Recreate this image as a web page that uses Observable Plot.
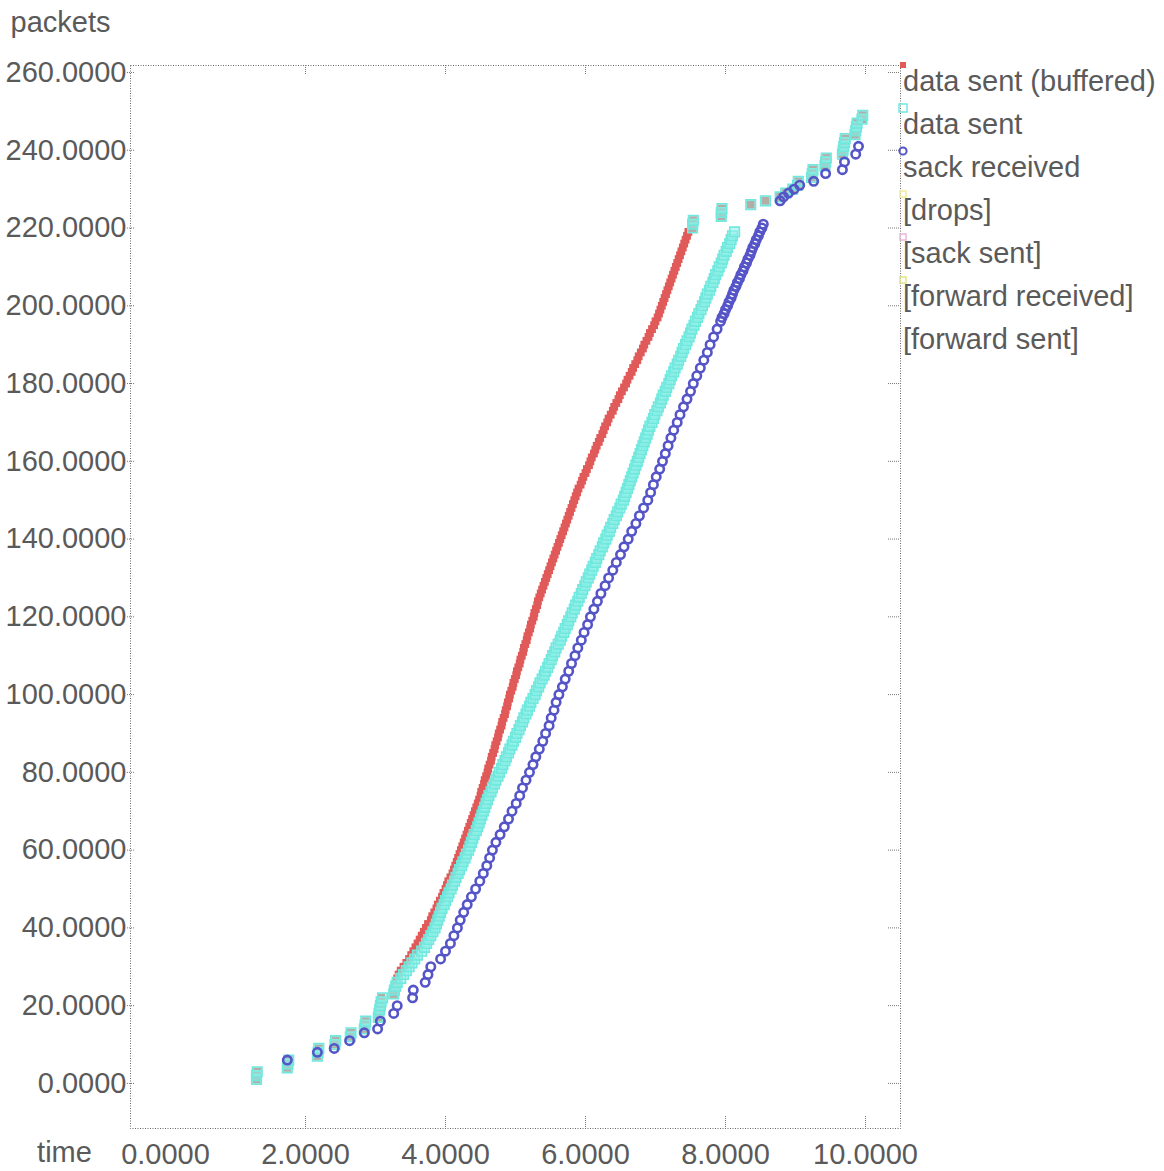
<!DOCTYPE html>
<html>
<head>
<meta charset="utf-8">
<script src="https://cdn.jsdelivr.net/npm/d3@7"></script>
<script src="https://cdn.jsdelivr.net/npm/@observablehq/plot@0.6"></script>
<style>
  body { margin: 0; background: #fff; }
  #wrap { position: relative; width: 1164px; height: 1171px; }
  #legend { position: absolute; left: 903px; top: 60px; font-family: "Liberation Sans", Arial, sans-serif; font-size: 29px; color: #5a5a5a; line-height: 43px; }
  .item { position: relative; white-space: nowrap; height: 43px; }
  .item svg { position: absolute; left: -6px; top: -1.5px; overflow: visible; }
</style>
</head>
<body>
<div id="wrap"><div id="legend"></div></div>
<script>
// ---- data ----
const xTicks = [0, 2, 4, 6, 8, 10];
const xTickMarks = [2, 4, 6, 8, 10];
const yTicks = [0, 20, 40, 60, 80, 100, 120, 140, 160, 180, 200, 220, 240, 260];

// "data sent (buffered)": send time of packets 1..219
const bufferedFirst = 1;
const bufferedTimes = [
  1.30,1.30,1.31,1.74,1.75,1.76,2.17,2.18,2.19,2.42,
  2.43,2.64,2.65,2.84,2.85,2.86,3.04,3.05,3.06,3.07,
  3.07,3.08,3.26,3.27,3.28,3.29,3.31,3.33,3.36,3.40,
  3.44,3.48,3.51,3.54,3.57,3.60,3.63,3.66,3.69,3.72,
  3.75,3.79,3.81,3.84,3.87,3.89,3.92,3.95,3.97,4.00,
  4.02,4.04,4.07,4.10,4.12,4.14,4.16,4.18,4.20,4.22,
  4.24,4.26,4.28,4.30,4.32,4.34,4.36,4.38,4.40,4.42,
  4.44,4.46,4.48,4.50,4.51,4.53,4.55,4.56,4.58,4.60,
  4.61,4.63,4.65,4.66,4.68,4.70,4.71,4.73,4.75,4.76,
  4.78,4.80,4.81,4.83,4.85,4.86,4.88,4.89,4.91,4.92,
  4.94,4.96,4.97,4.99,5.01,5.02,5.04,5.06,5.07,5.09,
  5.11,5.12,5.14,5.16,5.17,5.19,5.21,5.22,5.24,5.26,
  5.27,5.29,5.31,5.32,5.34,5.36,5.38,5.40,5.42,5.44,
  5.46,5.48,5.50,5.52,5.54,5.56,5.58,5.60,5.62,5.64,
  5.66,5.68,5.70,5.72,5.74,5.76,5.78,5.80,5.82,5.84,
  5.86,5.88,5.90,5.93,5.95,5.97,6.00,6.02,6.05,6.07,
  6.09,6.12,6.14,6.16,6.19,6.21,6.24,6.26,6.28,6.31,
  6.33,6.36,6.39,6.41,6.44,6.47,6.49,6.52,6.55,6.58,
  6.60,6.63,6.66,6.68,6.71,6.74,6.76,6.79,6.82,6.84,
  6.87,6.90,6.92,6.95,6.98,7.00,7.03,7.05,7.07,7.09,
  7.11,7.13,7.15,7.17,7.19,7.21,7.23,7.25,7.27,7.29,
  7.31,7.33,7.35,7.37,7.39,7.41,7.43,7.45,7.47
];

// "data sent": send time of packets 1..219
const sentFirst = 1;
const sentTimes = [
  1.30,1.30,1.31,1.74,1.75,1.76,2.17,2.18,2.19,2.42,
  2.43,2.64,2.65,2.84,2.85,2.86,3.04,3.05,3.06,3.07,
  3.08,3.10,3.26,3.27,3.29,3.31,3.36,3.40,3.44,3.48,
  3.52,3.56,3.60,3.66,3.70,3.73,3.76,3.79,3.82,3.85,
  3.87,3.89,3.91,3.93,3.95,3.98,4.00,4.03,4.05,4.08,
  4.10,4.13,4.15,4.18,4.20,4.23,4.25,4.28,4.30,4.33,
  4.35,4.37,4.39,4.41,4.44,4.46,4.48,4.50,4.52,4.54,
  4.56,4.58,4.60,4.62,4.65,4.67,4.70,4.72,4.75,4.77,
  4.80,4.82,4.85,4.87,4.90,4.92,4.95,4.97,5.00,5.02,
  5.05,5.07,5.10,5.12,5.15,5.17,5.20,5.22,5.25,5.28,
  5.30,5.33,5.35,5.38,5.41,5.43,5.46,5.48,5.51,5.53,
  5.56,5.58,5.61,5.64,5.66,5.69,5.71,5.74,5.76,5.79,
  5.81,5.84,5.86,5.89,5.91,5.94,5.96,5.99,6.01,6.04,
  6.06,6.09,6.11,6.14,6.16,6.19,6.21,6.24,6.26,6.29,
  6.31,6.34,6.36,6.39,6.41,6.44,6.46,6.49,6.51,6.54,
  6.56,6.58,6.60,6.62,6.64,6.66,6.68,6.70,6.72,6.74,
  6.76,6.78,6.80,6.82,6.84,6.86,6.88,6.90,6.92,6.95,
  6.97,6.99,7.02,7.04,7.07,7.09,7.11,7.14,7.16,7.19,
  7.21,7.23,7.26,7.28,7.31,7.33,7.36,7.38,7.40,7.43,
  7.45,7.48,7.50,7.52,7.55,7.57,7.60,7.62,7.65,7.67,
  7.70,7.72,7.74,7.77,7.79,7.82,7.84,7.86,7.89,7.91,
  7.94,7.96,7.98,8.01,8.03,8.06,8.08,8.10,8.13
];

// late packets 220..249 (buffered and sent markers coincide)
const tailFirst = 220;
const tailTimes = [
  7.53,7.53,7.54,7.94,7.94,7.95,8.36,8.57,8.78,8.86,
  8.96,9.03,9.04,9.23,9.24,9.25,9.42,9.43,9.44,9.67,
  9.68,9.69,9.70,9.71,9.85,9.86,9.87,9.88,9.95,9.96
];

// "sack received": [time, packet]
const sackReceived = [
  [1.74,6],[2.17,8],[2.41,9],[2.63,11],[2.84,13],[3.03,14],[3.07,16],[3.26,18],[3.31,20],
  [3.53,22],[3.54,24],[3.71,26],[3.75,28],[3.79,30],[3.93,32],[4.00,34],[4.07,36],
  [4.12,38],[4.17,40],[4.21,42],[4.26,44],[4.31,46],[4.37,48],[4.43,50],[4.49,52],[4.54,54],
  [4.59,56],[4.63,58],[4.67,60],[4.72,62],[4.78,64],[4.84,66],[4.90,68],[4.95,70],[5.01,72],
  [5.06,74],[5.10,76],[5.15,78],[5.20,80],[5.25,82],[5.29,84],[5.34,86],[5.39,88],[5.43,90],
  [5.48,92],[5.51,94],[5.55,96],[5.58,98],[5.62,100],[5.67,102],[5.71,104],[5.76,106],[5.80,108],
  [5.85,110],[5.89,112],[5.94,114],[5.98,116],[6.03,118],[6.07,120],[6.12,122],[6.17,124],[6.22,126],
  [6.28,128],[6.33,130],[6.39,132],[6.44,134],[6.50,136],[6.55,138],[6.61,140],[6.66,142],[6.72,144],
  [6.77,146],[6.83,148],[6.89,150],[6.93,152],[6.97,154],[7.01,156],[7.06,158],[7.10,160],[7.14,162],
  [7.18,164],[7.22,166],[7.26,168],[7.31,170],[7.35,172],[7.40,174],[7.45,176],[7.50,178],[7.54,180],
  [7.59,182],[7.64,184],[7.69,186],[7.74,188],[7.78,190],[7.83,192],[7.88,194],[7.93,196],
  [7.95,197],[7.98,198],[8.00,199],[8.03,200],[8.05,201],[8.08,202],[8.10,203],[8.12,204],[8.15,205],
  [8.17,206],[8.20,207],[8.22,208],[8.25,209],[8.27,210],[8.30,211],[8.32,212],[8.35,213],[8.37,214],
  [8.39,215],[8.42,216],[8.44,217],[8.47,218],[8.49,219],[8.52,220],[8.54,221],
  [8.78,227],[8.83,228],[8.90,229],[8.98,230],[9.06,231],[9.26,232],[9.43,234],[9.67,235],
  [9.70,237],[9.86,239],[9.90,241]
];

const legendLabels = ["data sent (buffered)", "data sent", "sack received", "[drops]", "[sack sent]", "[forward received]", "[forward sent]"];
const legendColors = ["#e05a5a", "#70e8de", "#5555c8", "#eeee99", "#eab8dc", "#e4e48a", null];

// ---- build tables ----
const run = (first, times, series) => times.map((t, i) => ({t, p: first + i, series}));
const buffered = [...run(bufferedFirst, bufferedTimes, "buffered"), ...run(tailFirst, tailTimes, "buffered")];
const sent = [...run(sentFirst, sentTimes, "sent"), ...run(tailFirst, tailTimes, "sent")];
const sacks = sackReceived.map(([t, p]) => ({t, p}));

const W = 1164, H = 1171, mL = 130, mR = 264, mT = 65, mB = 43;
const frameW = W - mL - mR, frameH = H - mT - mB;
const font = '"Liberation Sans", Arial, sans-serif';
const fs = 29;
const textColor = "#5a5a5a";
const tickStroke = "#777";
const fmt = d => d.toFixed(4);

const chart = Plot.plot({
  width: W, height: H,
  marginLeft: mL, marginRight: mR, marginTop: mT, marginBottom: mB,
  x: {domain: [-0.5, 10.5]},
  y: {domain: [-11.6, 261.8]},
  style: {fontFamily: font, fontSize: fs + "px", color: textColor, background: "#fff", overflow: "visible"},
  marks: [
    Plot.frame({stroke: "#666", strokeDasharray: "1,1.5", strokeWidth: 1}),
    Plot.ruleY(yTicks, {stroke: tickStroke, strokeDasharray: "1,1", insetLeft: -3, insetRight: frameW - 4}),
    Plot.ruleY(yTicks, {stroke: tickStroke, strokeDasharray: "1,1", insetLeft: frameW - 12}),
    Plot.ruleX(xTickMarks, {stroke: tickStroke, strokeDasharray: "1,1", insetBottom: frameH - 10}),
    Plot.ruleX(xTickMarks, {stroke: tickStroke, strokeDasharray: "1,1", insetTop: frameH - 12}),
    Plot.axisY(yTicks, {anchor: "left", tickSize: 0, tickPadding: 4, tickFormat: fmt, fontSize: fs, fill: textColor, label: null}),
    Plot.axisX(xTicks, {anchor: "bottom", tickSize: 0, tickPadding: 15, tickFormat: fmt, fontSize: fs, fill: textColor, label: null}),
    Plot.text(["packets"], {text: d => d, frameAnchor: "top-left", dx: -120, dy: -43, textAnchor: "start", lineAnchor: "middle", fontSize: fs, fill: textColor}),
    Plot.text(["time"], {text: d => d, frameAnchor: "bottom-left", dx: -66, dy: 24, textAnchor: "middle", lineAnchor: "middle", fontSize: fs, fill: textColor}),
    Plot.dot(buffered, {x: "t", y: "p", symbol: "square", r: 4.4, fill: legendColors[0], stroke: "none"}),
    Plot.dot(sent, {x: "t", y: "p", symbol: "square", r: 5.4, fill: "#8ef0e8", fillOpacity: 0.55, stroke: legendColors[1], strokeWidth: 1.6}),
    Plot.dot(sacks, {x: "t", y: "p", symbol: "circle", r: 4.2, fill: "none", stroke: legendColors[2], strokeWidth: 2.6})
  ]
});
document.getElementById("wrap").prepend(chart);

// ---- legend ----
const legend = document.getElementById("legend");
legendLabels.forEach((label, i) => {
  const item = document.createElement("div");
  item.className = "item";
  const c = legendColors[i];
  let marker = "";
  if (i === 0) marker = `<rect x="3" y="3" width="6" height="6" fill="${c}"/>`;
  else if (i === 1) marker = `<rect x="2" y="2" width="8" height="8" fill="none" stroke="${c}" stroke-width="1.5"/>`;
  else if (i === 2) marker = `<circle cx="6" cy="6" r="3.6" fill="none" stroke="${c}" stroke-width="2"/>`;
  else if (c) marker = `<rect x="3" y="3" width="6" height="6" fill="none" stroke="${c}" stroke-width="1.5"/>`;
  item.innerHTML = `<svg width="12" height="12">${marker}</svg>${label}`;
  legend.appendChild(item);
});
</script>
</body>
</html>
